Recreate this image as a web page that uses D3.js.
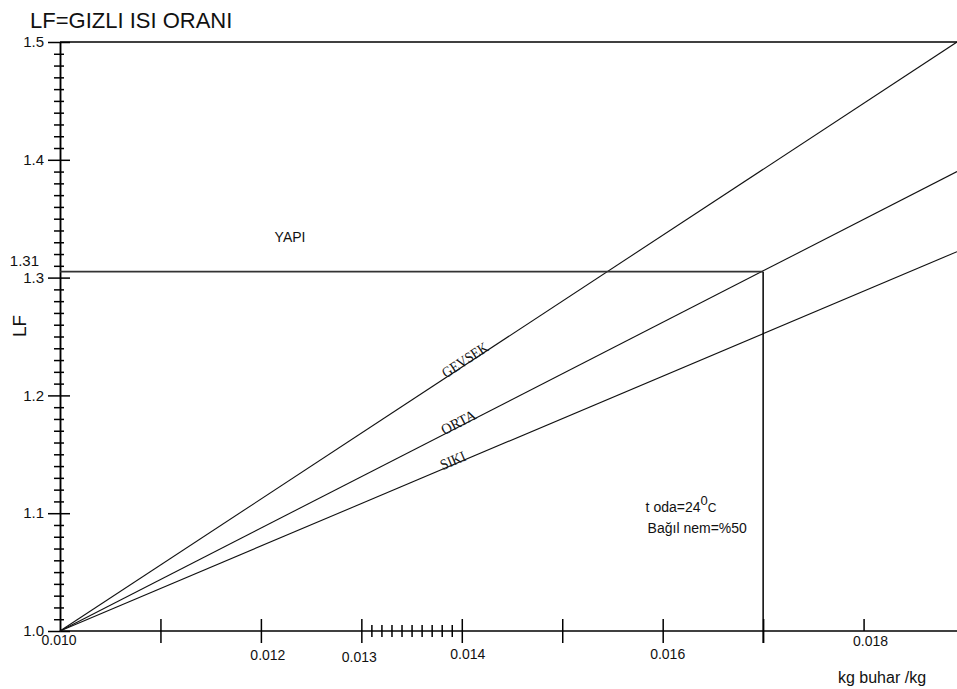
<!DOCTYPE html>
<html>
<head>
<meta charset="utf-8">
<script src="https://cdn.jsdelivr.net/npm/d3@7"></script>
<style>
  body { margin: 0; background: #fff; }
  text { font-family: "Liberation Sans", Arial, sans-serif; fill: #111; }
  .serif { font-family: "Liberation Serif", "DejaVu Serif", serif; }
</style>
</head>
<body>
<svg id="chart" width="957" height="689"></svg>
<script>
// chart values
var seriesNames = ["GEVSEK", "ORTA", "SIKI"];
var seriesStart = [[0.010, 1.0], [0.010, 1.0], [0.010, 1.0]];
var seriesEnd = [[0.01893, 1.500], [0.01893, 1.390], [0.01893, 1.322]];
var seriesLabelAt = [0.01406, 0.01399, 0.01393];

var yMajor = [1.0, 1.1, 1.2, 1.3, 1.4, 1.5];
var yMajorLabels = ["1.0", "1.1", "1.2", "1.3", "1.4", "1.5"];
var yMinor = d3.range(1, 50).filter(function(i) { return i % 10 != 0; }).map(function(i) { return 1 + i / 100; });

var xMajor = [0.011, 0.012, 0.013, 0.014, 0.015, 0.016, 0.017];
var xMajorUp = [0.018];
var xMinor = [0.0131, 0.0132, 0.0133, 0.0134, 0.0135, 0.0136, 0.0137, 0.0138, 0.0139];
var xLabelValues = [0.010, 0.012, 0.013, 0.014, 0.016, 0.018];
var xLabels = ["0.010", "0.012", "0.013", "0.014", "0.016", "0.018"];

var yapiLF = 1.305;      // building line
var yapiLFLabel = "1.31";
var yapiX = 0.017;

var svg = d3.select("#chart");

// scales
var x = d3.scaleLinear()
  .domain([0.010, 0.01893])
  .range([60, 957]);

var y = d3.scaleLinear()
  .domain([1.0, 1.5])
  .range([631, 42]);

var x0 = x(0.010), y0 = y(1.0);

// title
svg.append("text")
  .attr("x", 30)
  .attr("y", 28)
  .style("font-size", "22px")
  .text("LF=GIZLI ISI ORANI");

// top frame line
svg.append("line")
  .attr("x1", x0).attr("x2", 957)
  .attr("y1", y(1.5)).attr("y2", y(1.5))
  .attr("stroke", "#000").attr("stroke-width", 1.5);

// Y axis: ticks crossing the line
function yTicks(values, left, right) {
  svg.append("g")
    .attr("transform", "translate(" + x0 + ",0)")
    .call(d3.axisLeft(y).tickValues(values).tickSize(left).tickSizeOuter(0).tickFormat(""))
    .call(function(g) { g.selectAll("line").attr("stroke", "#000").attr("stroke-width", 1.5); });
  svg.append("g")
    .attr("transform", "translate(" + x0 + ",0)")
    .call(d3.axisRight(y).tickValues(values).tickSize(right).tickSizeOuter(0).tickFormat(""))
    .call(function(g) { g.select(".domain").remove(); g.selectAll("line").attr("stroke", "#000").attr("stroke-width", 1.5); });
}
yTicks(yMajor, 12, 10);
yTicks(yMinor, 6, 4);
svg.selectAll(".domain").attr("stroke", "#000").attr("stroke-width", 1.5);

svg.append("g")
  .selectAll("text")
  .data(yMajor)
  .enter()
  .append("text")
    .attr("x", 44)
    .attr("y", function(d) { return y(d); })
    .attr("dy", "0.35em")
    .attr("text-anchor", "end")
    .style("font-size", "15px")
    .text(function(d, i) { return yMajorLabels[i]; });

svg.append("text")
  .attr("x", 39)
  .attr("y", y(1.31) - 5)
  .attr("dy", "0.35em")
  .attr("text-anchor", "end")
  .style("font-size", "15px")
  .text(yapiLFLabel);

// y label
svg.append("text")
  .attr("transform", "translate(26,326) rotate(-90)")
  .attr("text-anchor", "middle")
  .style("font-size", "19px")
  .text("LF");

// X axis
svg.append("line")
  .attr("x1", x0).attr("x2", 957)
  .attr("y1", y0).attr("y2", y0)
  .attr("stroke", "#000").attr("stroke-width", 1.5);

function xTicks(values, up, down) {
  svg.append("g")
    .attr("transform", "translate(0," + y0 + ")")
    .call(d3.axisTop(x).tickValues(values).tickSize(up).tickSizeOuter(0).tickFormat(""))
    .call(function(g) { g.select(".domain").remove(); g.selectAll("line").attr("stroke", "#000").attr("stroke-width", 1.5); });
  if (down > 0) {
    svg.append("g")
      .attr("transform", "translate(0," + y0 + ")")
      .call(d3.axisBottom(x).tickValues(values).tickSize(down).tickSizeOuter(0).tickFormat(""))
      .call(function(g) { g.select(".domain").remove(); g.selectAll("line").attr("stroke", "#000").attr("stroke-width", 1.5); });
  }
}
xTicks(xMajor, 12, 12);
xTicks(xMajorUp, 12, 0);
xTicks(xMinor, 6, 6);

// x tick labels sit a little off their ticks, like the original
var xNudge = [-1, 7, -2, 6, 5, 7];
var xLabelY = [640, 655, 657, 654, 654, 641];
svg.append("g")
  .selectAll("text")
  .data(xLabelValues)
  .enter()
  .append("text")
    .attr("x", function(d, i) { return x(d) + xNudge[i]; })
    .attr("y", function(d, i) { return xLabelY[i]; })
    .attr("dy", "0.35em")
    .attr("text-anchor", "middle")
    .style("font-size", "14px")
    .text(function(d, i) { return xLabels[i]; });

svg.append("text")
  .attr("x", 882)
  .attr("y", 683)
  .attr("text-anchor", "middle")
  .style("font-size", "16px")
  .text("kg buhar /kg");

// the three LF lines
var line = d3.line()
  .x(function(d) { return x(d[0]); })
  .y(function(d) { return y(d[1]); });

var labelLen = [52, 37, 26];
seriesNames.forEach(function(name, i) {
  var p0 = seriesStart[i], p1 = seriesEnd[i];
  svg.append("path")
    .attr("d", line([p0, p1]))
    .attr("fill", "none")
    .attr("stroke", "#111")
    .attr("stroke-width", 1.1);

  var lx = seriesLabelAt[i];
  var ly = p0[1] + (p1[1] - p0[1]) * (lx - p0[0]) / (p1[0] - p0[0]);
  var ang = Math.atan2(y(p1[1]) - y(p0[1]), x(p1[0]) - x(p0[0])) * 180 / Math.PI;
  svg.append("text")
    .attr("class", "serif")
    .attr("transform", "translate(" + x(lx) + "," + (y(ly) + 1) + ") rotate(" + ang + ")")
    .attr("text-anchor", "middle")
    .attr("textLength", labelLen[i])
    .attr("lengthAdjust", "spacingAndGlyphs")
    .style("font-size", "15px")
    .text(name);
});

// building design point
svg.append("line")
  .attr("x1", x0).attr("x2", x(yapiX))
  .attr("y1", y(yapiLF)).attr("y2", y(yapiLF))
  .attr("stroke", "#333").attr("stroke-width", 1.8);
svg.append("line")
  .attr("x1", x(yapiX)).attr("x2", x(yapiX))
  .attr("y1", y(yapiLF)).attr("y2", y0 + 12)
  .attr("stroke", "#000").attr("stroke-width", 1.5);

svg.append("text")
  .attr("x", x(0.01229))
  .attr("y", y(1.33))
  .attr("text-anchor", "middle")
  .style("font-size", "14px")
  .text("YAPI");

// room conditions
var note = svg.append("text")
  .attr("x", x(0.01583))
  .attr("y", y(1.101))
  .style("font-size", "14px");
note.append("tspan").text("t oda=24");
note.append("tspan").attr("dy", -7).style("font-size", "13px").text("0");
note.append("tspan").attr("dy", 7).style("font-size", "12px").text("C");

svg.append("text")
  .attr("x", x(0.01585))
  .attr("y", y(1.083))
  .style("font-size", "14px")
  .text("Bağıl nem=%50");
</script>
</body>
</html>
